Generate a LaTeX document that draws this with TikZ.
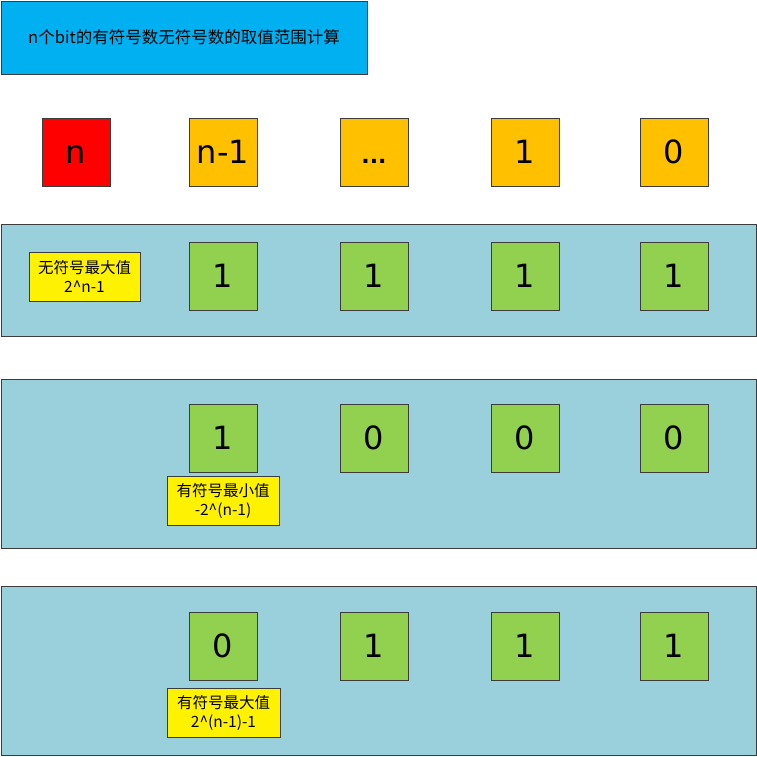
\documentclass[tikz,border=0pt]{standalone}
\usepackage{fontspec}
\setmainfont{DejaVu Sans}
\newfontfamily\cjk{Noto Sans CJK SC}
\definecolor{titleblue}{RGB}{0,176,240}
\definecolor{bitred}{RGB}{255,0,0}
\definecolor{bitorange}{RGB}{255,192,0}
\definecolor{bitgreen}{RGB}{146,208,80}
\definecolor{bandblue}{RGB}{154,207,220}
\definecolor{edgegray}{RGB}{60,60,60}
\begin{document}
\begin{tikzpicture}[x=1pt,y=-1pt,
  bitbox/.style={draw=edgegray,line width=0.9pt,minimum width=68pt,minimum height=68pt,inner sep=0pt,text height=23pt,text depth=0pt,font=\fontsize{32}{36}\selectfont},
  band/.style={draw=edgegray,line width=0.9pt,fill=bandblue},
  note/.style={draw=edgegray,line width=0.9pt,fill=yellow,inner sep=0pt,align=center,font=\cjk\fontsize{15.5}{19}\selectfont}]
\useasboundingbox (0,0) rectangle (757,757);
% title
\node[draw=edgegray,line width=0.9pt,fill=titleblue,minimum width=366pt,minimum height=73pt,inner sep=0pt,font=\cjk\fontsize{16.5}{20}\selectfont] (title) at (184,37.5) {n个bit的有符号数无符号数的取值范围计算};
% header row
\node[bitbox,fill=bitred] (hn) at (76,152) {n};
\node[bitbox,fill=bitorange] (hn1) at (223,152) {n-1};
\node[bitbox,fill=bitorange,font=\bfseries\fontsize{22}{26}\selectfont] (hdots) at (374,152) {...};
\node[bitbox,fill=bitorange] (h1) at (525,152) {1};
\node[bitbox,fill=bitorange] (h0) at (674,152) {0};
% band 1
\draw[band] (1,224) rectangle (756,336);
\node[bitbox,fill=bitgreen] (a1) at (223,276) {1};
\node[bitbox,fill=bitgreen] (a2) at (374,276) {1};
\node[bitbox,fill=bitgreen] (a3) at (525,276) {1};
\node[bitbox,fill=bitgreen] (a4) at (674,276) {1};
\node[note,minimum width=111pt,minimum height=49pt] (na) at (84.5,276.5) {无符号最大值\\2\^{}n-1};
% band 2
\draw[band] (1,379) rectangle (756,548);
\node[bitbox,fill=bitgreen] (b1) at (223,438) {1};
\node[bitbox,fill=bitgreen] (b2) at (374,438) {0};
\node[bitbox,fill=bitgreen] (b3) at (525,438) {0};
\node[bitbox,fill=bitgreen] (b4) at (674,438) {0};
\node[note,minimum width=112pt,minimum height=49pt] (nb) at (223,501) {有符号最小值\\-2\^{}(n-1)};
% band 3
\draw[band] (1,586) rectangle (756,755);
\node[bitbox,fill=bitgreen] (c1) at (223,646) {0};
\node[bitbox,fill=bitgreen] (c2) at (374,646) {1};
\node[bitbox,fill=bitgreen] (c3) at (525,646) {1};
\node[bitbox,fill=bitgreen] (c4) at (674,646) {1};
\node[note,minimum width=113pt,minimum height=49pt] (nc) at (223.5,712.5) {有符号最大值\\2\^{}(n-1)-1};
\end{tikzpicture}
\end{document}
